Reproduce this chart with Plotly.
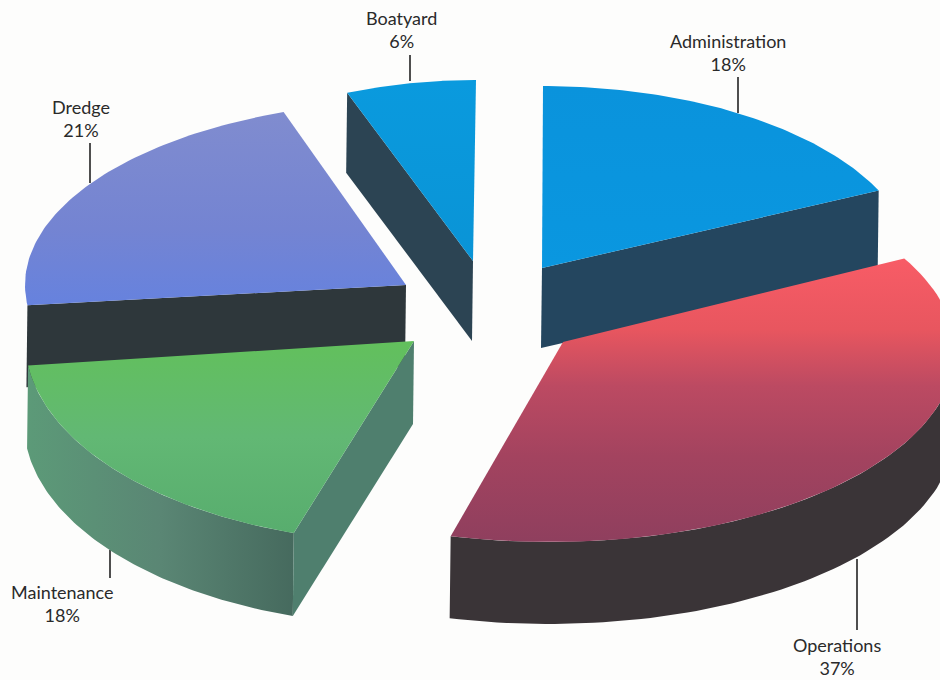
import numpy as np
import plotly.graph_objects as go

categories = ["Administration", "Operations", "Maintenance", "Dredge", "Boatyard"]
shares = [18, 37, 18, 21, 6]

# Per-slice projection: where the exploded wedge sits on the page and how it is foreshortened
apex_x = [542, 563, 414, 406, 473]
apex_y = [268, 342, 341, 285, 261]
centre_x = [543, 550, 414, 425, 476]
centre_y = [268, 351, 340, 285, 261]
radius_x = [371, 405, 389, 400, 350]
radius_y = [182, 191, 203, 185, 181]
angle_shift = [0.0, -3.8, 0.0, 0.9, 0.0]
depth = [80, 82, 83, 82, 80]

# Colour stops run from the bottom of the page (0) to the top (1)
top_colors = [
    [[0, "#0a97e0"], [1, "#0a93dc"]],
    [[0, "#8f3f5e"], [0.3, "#a3435f"], [0.55, "#bc4a62"], [0.75, "#e8565f"], [1, "#f85c66"]],
    [[0, "#58ad6e"], [0.5, "#62b874"], [1, "#62c05c"]],
    [[0, "#6682de"], [0.4, "#7484d2"], [1, "#808ccf"]],
    [[0, "#0a94d6"], [1, "#0a9ade"]],
]
wall_colors = ["#24465f", "#3a3437", "#54806c", "#2e373b", "#2c4453"]


def cumulative():
    out, total = [], 0
    for s in shares:
        out.append((total, total + s))
        total += s
    return out


def rim(i, a, b, n=80):
    t = np.radians(np.linspace(a, b, n) + angle_shift[i])
    return centre_x[i] + radius_x[i] * np.sin(t), centre_y[i] - radius_y[i] * np.cos(t)


spans = [(a * 3.6, b * 3.6) for a, b in cumulative()]
fig = go.Figure()


def add_poly(x, y, color=None, scale=None, kind="vertical", name=""):
    kw = dict(x=list(x), y=list(y), mode="lines", fill="toself", line=dict(width=0),
              name=name, hoverinfo="skip", showlegend=False)
    if scale:
        kw["fillgradient"] = dict(type=kind, colorscale=scale)
    else:
        kw["fillcolor"] = color
    fig.add_trace(go.Scatter(**kw))


def cut_wall(i, angle, color=None):
    rx, ry = rim(i, angle, angle, 1)
    d = depth[i]
    add_poly([apex_x[i], rx[0], rx[0] - 1, apex_x[i] - 1], [apex_y[i], ry[0], ry[0] + d, apex_y[i] + d],
             color=color or wall_colors[i], name=categories[i] + " cut face")


def outer_wall(i, a, b, scale=None, kind="horizontal"):
    rx, ry = rim(i, a, b)
    add_poly(np.r_[rx, rx[::-1] - 1], np.r_[ry, ry[::-1] + depth[i]], color=wall_colors[i], scale=scale,
             kind=kind, name=categories[i] + " wall")


def top(i):
    a, b = spans[i]
    rx, ry = rim(i, a, b)
    add_poly(np.r_[apex_x[i], rx, apex_x[i]], np.r_[apex_y[i], ry, apex_y[i]], scale=top_colors[i],
             name=categories[i])


# Administration
cut_wall(0, spans[0][1])
top(0)
# Boatyard
cut_wall(4, spans[4][0])
top(4)
# Dredge
cut_wall(3, spans[3][0])
top(3)
# Operations
outer_wall(1, 90, spans[1][1])
top(1)
# Maintenance
outer_wall(2, spans[2][0], spans[2][1],
           scale=[[0, "#5c9a78"], [0.5, "#5a8674"], [1, "#466a5e"]])
cut_wall(2, spans[2][0], color="#4f7f6e")
top(2)

label_x = [728, 837, 62, 81, 401]
label_y = [52, 656, 603, 118, 29]
leader_x = [738, 857, 110, 90, 410]
leader_top = [77, 559, 550, 143, 55]
leader_bottom = [113, 630, 578, 183, 81]

shapes = [dict(type="line", x0=x, x1=x, y0=t, y1=b, line=dict(color="#222222", width=1.6), layer="below")
          for x, t, b in zip(leader_x, leader_top, leader_bottom)]
annotations = [dict(x=x, y=y, text=f"{c}<br>{s}%", showarrow=False, align="center",
                    font=dict(family="Lato, Open Sans, sans-serif", size=18, color="#2a2a2a"))
               for x, y, c, s in zip(label_x, label_y, categories, shares)]

fig.update_layout(
    width=940, height=680, margin=dict(l=0, r=0, t=0, b=0),
    paper_bgcolor="#fdfdfc", plot_bgcolor="#fdfdfc",
    xaxis=dict(range=[0, 940], visible=False, fixedrange=True),
    yaxis=dict(range=[680, 0], visible=False, fixedrange=True),
    shapes=shapes, annotations=annotations,
)
fig.write_html("out.html", config=dict(displayModeBar=False),
               post_script="document.body.style.margin='0';document.body.style.overflow='hidden';")
